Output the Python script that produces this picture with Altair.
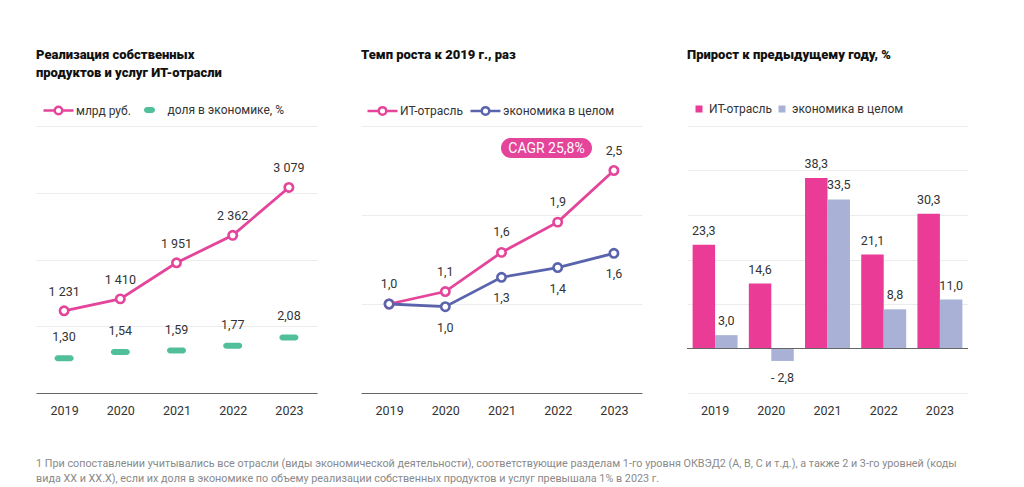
import altair as alt
import pandas as pd

# ---------------- data ----------------
years = ["2019", "2020", "2021", "2022", "2023"]
it_revenue = [1231, 1410, 1951, 2362, 3079]          # млрд руб.
it_share = [1.30, 1.54, 1.59, 1.77, 2.08]            # доля в экономике, %
growth_it = [1.0, 1.14, 1.58, 1.92, 2.50]            # темп роста к 2019, ИТ
growth_econ = [1.0, 0.97, 1.30, 1.41, 1.57]          # темп роста к 2019, экономика
yoy_it = [23.3, 14.6, 38.3, 21.1, 30.3]              # прирост, ИТ
yoy_econ = [3.0, -2.8, 33.5, 8.8, 11.0]              # прирост, экономика
series_names = ["ИТ-отрасль", "экономика в целом"]
cagr_text = "CAGR 25,8%"

titles = [
    ["Реализация собственных", "продуктов и услуг ИТ-отрасли"],
    ["Темп роста к 2019 г., раз", " "],
    ["Прирост к предыдущему году, %", " "],
]
footnote = [
    "1 При сопоставлении учитывались все отрасли (виды экономической деятельности), соответствующие разделам 1-го уровня ОКВЭД2 (A, B, C и т.д.), а также 2 и 3-го уровней (коды",
    "вида XX и XX.X), если их доля в экономике по объему реализации собственных продуктов и услуг превышала 1% в 2023 г.",
]

# ---------------- style ----------------
PINK = "#e4449a"
PINK_BAR = "#ea3c96"
BLUE = "#5a64ad"
LIGHT = "#a9b1d7"
GREEN = "#52bf9b"
FONT = "Roboto"
TXT = "#333333"
GRID = "#ececec"
DOMAIN = "#666666"
W, H = 281, 267
LFS = 12.5
LEG_FS = 12

LINE_SYM = "M-1,0H-0.25M0.25,0H1M0.25,0A0.25,0.25,0,1,1,-0.25,0A0.25,0.25,0,1,1,0.25,0Z"
PILL_SYM = "M-0.167,-0.2H0.167A0.2,0.2,0,0,1,0.167,0.2H-0.167A0.2,0.2,0,0,1,-0.167,-0.2Z"


def fmt_th(v):
    return f"{v:,}".replace(",", " ")


def fmt1(v):
    s = f"{abs(v):.1f}".replace(".", ",")
    return ("- " if v < 0 else "") + s


def fmt2(v):
    return f"{v:.2f}".replace(".", ",")


def x_axis(domain=True):
    return alt.Axis(title=None, labelAngle=0, ticks=False, tickSize=0, labelPadding=11,
                    domain=domain, domainColor=DOMAIN, domainWidth=1, grid=False,
                    labelFontSize=LFS, labelColor=TXT, labelFont=FONT)


def y_axis(values):
    return alt.Axis(title=None, labels=False, ticks=False, domain=False, values=values,
                    grid=True, gridColor=GRID, gridWidth=1)


def panel_title(lines, dy=0):
    return alt.TitleParams(lines, anchor="start", frame="group", font=FONT, fontSize=13,
                           fontWeight=900, color="#111111", lineHeight=18, offset=14, dy=dy)


def legend(x, y, sym, size=900, **kw):
    return alt.Legend(title=None, orient="none", legendX=x, legendY=y, direction="horizontal",
                      symbolType=sym, symbolSize=size, labelFont=FONT, labelFontSize=LEG_FS,
                      labelColor=TXT, labelLimit=400, **kw)


# ---------------- panel 1 ----------------
df1 = pd.DataFrame({"year": years, "value": it_revenue,
                    "label": [fmt_th(v) for v in it_revenue], "series": "млрд руб."})
df1b = pd.DataFrame({"year": years, "share": it_share,
                     "label": [fmt2(v) for v in it_share], "series": "доля в экономике, %"})

xp = alt.X("year:O", scale=alt.Scale(type="point", padding=0.5), axis=x_axis())
y1 = alt.Y("value:Q", scale=alt.Scale(domain=[0, 4000], nice=False), axis=y_axis([1000, 2000, 3000, 4000]))
c1 = alt.Color("series:N", scale=alt.Scale(domain=["млрд руб."], range=[PINK]),
               legend=legend(6, -32, LINE_SYM, symbolStrokeWidth=2.5, symbolFillColor="white",
                             labelOffset=1))
b1 = alt.Chart(df1).encode(x=xp, y=y1)
pink1 = alt.layer(
    b1.mark_line(strokeWidth=2.8).encode(color=c1),
    b1.mark_point(filled=False, fill="white", size=70, strokeWidth=2.6, opacity=1).encode(color=c1),
    b1.mark_text(dy=-19, font=FONT, fontSize=LFS, color=TXT).encode(text="label:N"),
)
y1b = alt.Y("share:Q", scale=alt.Scale(domain=[0, 10], nice=False), axis=None)
c1b = alt.Color("series:N", scale=alt.Scale(domain=["доля в экономике, %"], range=[GREEN]),
                legend=legend(97.5, -32, PILL_SYM, labelOffset=2))
b1b = alt.Chart(df1b).encode(x=xp, y=y1b)
green1 = alt.layer(
    b1b.mark_tick(thickness=6, size=19, cornerRadius=3, opacity=1).encode(color=c1b),
    b1b.mark_text(dy=-21, font=FONT, fontSize=LFS, color=TXT).encode(text="label:N"),
)
p1 = alt.layer(pink1, green1).resolve_scale(y="independent", color="independent").properties(
    width=W, height=H, title=panel_title(titles[0]))

# ---------------- panel 2 ----------------
df2 = pd.DataFrame({"year": years * 2, "value": growth_it + growth_econ,
                    "series": [series_names[0]] * 5 + [series_names[1]] * 5})
df2["label"] = [fmt1(v) for v in df2["value"]]
y2 = alt.Y("value:Q", scale=alt.Scale(domain=[0, 3], nice=False), axis=y_axis([1, 2, 3]))
c2 = alt.Color("series:N", scale=alt.Scale(domain=series_names, range=[PINK, BLUE]),
               legend=legend(5, -32, LINE_SYM, symbolStrokeWidth=2.5, symbolFillColor="white",
                             labelOffset=1, columnPadding=2))
b2 = alt.Chart(df2).encode(x=xp, y=y2)
p2 = alt.layer(
    b2.mark_line(strokeWidth=2.8).encode(color=c2),
    b2.mark_point(filled=False, fill="white", size=70, strokeWidth=2.6, opacity=1).encode(color=c2),
    b2.mark_text(dy=-20, font=FONT, fontSize=LFS, color=TXT).encode(text="label:N").transform_filter(
        alt.datum.series == series_names[0]),
    b2.mark_text(dy=21, font=FONT, fontSize=LFS, color=TXT).encode(text="label:N").transform_filter(
        (alt.datum.series == series_names[1]) & (alt.datum.year != "2019")),
    alt.Chart(pd.DataFrame({"t": [cagr_text]})).mark_rect(color=PINK, cornerRadius=10).encode(
        x=alt.value(140), x2=alt.value(231), y=alt.value(12), y2=alt.value(32)),
    alt.Chart(pd.DataFrame({"t": [cagr_text]})).mark_text(color="white", font=FONT, fontSize=14,
                                                          baseline="middle").encode(
        x=alt.value(185.5), y=alt.value(22.5), text="t:N"),
).properties(width=W, height=H, title=panel_title(titles[1]))

# ---------------- panel 3 ----------------
df3 = pd.DataFrame({"year": years * 2, "value": yoy_it + yoy_econ,
                    "series": [series_names[0]] * 5 + [series_names[1]] * 5})
df3["label"] = [fmt1(v) for v in df3["value"]]
x3 = alt.X("year:N", scale=alt.Scale(paddingInner=0.2, paddingOuter=0.1), axis=x_axis(domain=False))
xo3 = alt.XOffset("series:N", scale=alt.Scale(domain=series_names, paddingInner=0, paddingOuter=0))
y3 = alt.Y("value:Q", scale=alt.Scale(domain=[-10, 50], nice=False),
           axis=y_axis([-10, 10, 20, 30, 40, 50]))
c3 = alt.Color("series:N", scale=alt.Scale(domain=series_names, range=[PINK_BAR, LIGHT]),
               legend=legend(6, -23, "square", size=49, labelOffset=4, columnPadding=4))
b3 = alt.Chart(df3).encode(x=x3, xOffset=xo3, y=y3)
p3 = alt.layer(
    b3.mark_bar().encode(color=c3),
    alt.Chart(pd.DataFrame({"zero": [0]})).mark_rule(color=DOMAIN, strokeWidth=1).encode(y="zero:Q"),
    b3.mark_text(dy=-14, font=FONT, fontSize=LFS, color=TXT).encode(text="label:N").transform_filter(
        alt.datum.value >= 0),
    b3.mark_text(dy=17, font=FONT, fontSize=LFS, color=TXT).encode(text="label:N").transform_filter(
        alt.datum.value < 0),
).properties(width=W, height=H, title=panel_title(titles[2], dy=-9))

chart = alt.hconcat(p1, p2, p3, spacing=44).resolve_scale(color="independent").properties(
    title=alt.TitleParams(footnote, orient="bottom", anchor="start", frame="bounds", font=FONT,
                          fontSize=10.8, fontWeight="normal", color="#8a8a8a", lineHeight=15, offset=41),
    padding={"left": 28, "top": 41, "right": 5, "bottom": 5},
).configure(font=FONT).configure_view(stroke=None)

chart.save("out.html", embed_options={"renderer": "svg", "actions": False})
